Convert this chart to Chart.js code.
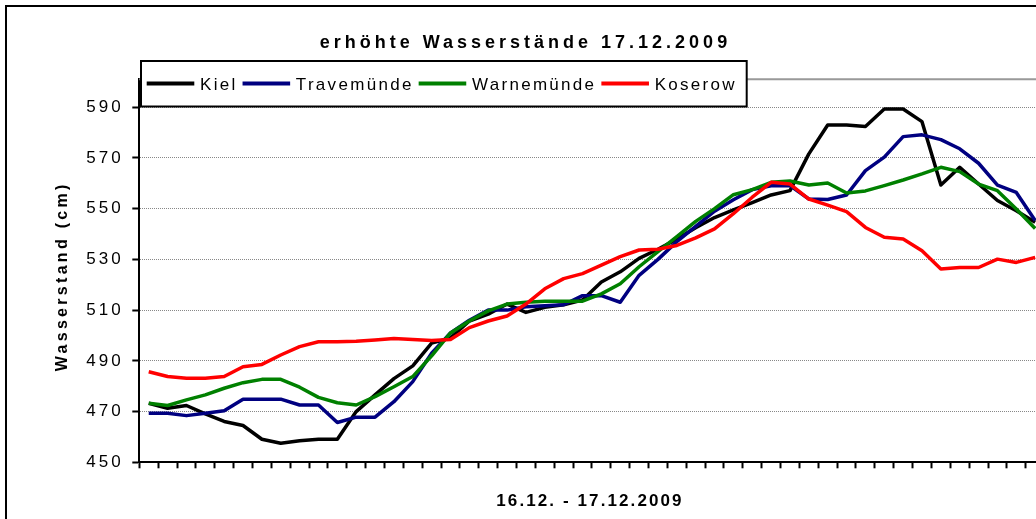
<!DOCTYPE html>
<html>
<head>
<meta charset="utf-8">
<title>erhöhte Wasserstände 17.12.2009</title>
<script src="https://cdn.jsdelivr.net/npm/chart.js@4"></script>
<style>
  html, body { margin: 0; padding: 0; background: #fff; overflow: hidden; }
  body { width: 1036px; height: 519px; position: relative; }
  canvas { position: absolute; left: 0; top: 0; }
  #frame { position: absolute; left: 5px; top: 5px; width: 1100px; height: 600px; border: 2px solid #000; pointer-events: none; }
</style>
</head>
<body>
<canvas class="js-chart" width="1070" height="545"></canvas>
<div id="frame"></div>
<script>
const ctx = document.querySelector(".js-chart").getContext("2d");
const FONT = '"Liberation Sans", Arial, sans-serif';

// half-hour slots, 16.12. - 17.12.2009
const slots = ["1", "2", "3", "4", "5", "6", "7", "8", "9", "10", "11", "12", "13", "14", "15", "16",
  "17", "18", "19", "20", "21", "22", "23", "24", "25", "26", "27", "28", "29", "30", "31", "32",
  "33", "34", "35", "36", "37", "38", "39", "40", "41", "42", "43", "44", "45", "46", "47", "48"];

const kiel = [473.3, 471.3, 472.4, 469.1, 466.1, 464.5, 459.1, 457.5, 458.5, 459.1,
  459.1, 470.0, 476.6, 483.0, 488.0, 497.0, 499.0, 505.7, 508.4, 512.4,
  509.1, 511.1, 512.1, 514.0, 521.1, 525.1, 530.4, 534.0, 538.0, 542.5,
  546.5, 549.5, 552.4, 555.4, 557.1, 571.6, 583.0, 583.0, 582.4, 589.3,
  589.3, 584.3, 559.3, 566.3, 559.7, 553.2, 549.2, 544.6];

const travemuende = [469.3, 469.3, 468.4, 469.3, 470.3, 474.9, 474.9, 474.9, 472.6, 472.6,
  465.7, 467.8, 467.8, 473.9, 481.8, 493.0, 501.0, 506.0, 510.0, 510.0,
  511.3, 511.7, 512.1, 515.7, 515.7, 513.1, 523.7, 530.0, 537.0, 543.0,
  549.0, 553.5, 557.5, 559.0, 559.1, 553.8, 553.6, 555.4, 565.0, 570.3,
  578.4, 579.1, 577.2, 573.6, 567.9, 559.3, 556.4, 545.3];

const warnemuende = [473.3, 472.4, 474.6, 476.6, 479.2, 481.4, 482.7, 482.7, 479.6, 475.6,
  473.5, 472.6, 475.9, 479.8, 483.8, 492.0, 501.0, 505.7, 509.7, 512.4,
  513.1, 513.5, 513.5, 513.5, 516.4, 520.4, 527.1, 533.1, 539.0, 545.0,
  550.0, 555.5, 557.5, 560.4, 560.9, 559.3, 560.1, 556.2, 557.0, 559.1,
  561.3, 563.7, 566.3, 564.6, 559.7, 557.1, 549.9, 542.2];

const koserow = [485.7, 483.8, 483.1, 483.1, 483.8, 487.7, 488.6, 492.3, 495.6, 497.5,
  497.5, 497.7, 498.2, 498.8, 498.4, 498.0, 498.4, 503.1, 505.7, 507.7,
  512.4, 518.4, 522.4, 524.4, 527.7, 531.1, 533.7, 534.0, 535.5, 538.5,
  542.0, 548.0, 554.5, 560.4, 559.7, 553.8, 551.4, 548.8, 542.6, 538.7,
  538.0, 533.4, 526.2, 526.8, 526.8, 530.1, 528.8, 530.8];

const yTicks = [450, 470, 490, 510, 530, 550, 570, 590];

Chart.defaults.font.family = FONT;
Chart.defaults.color = "#000";

// Excel spreads its letters out; canvas can do that with letterSpacing
function spaced(target, method, spacing, dx, dy) {
  const original = target[method];
  target[method] = function (...args) {
    const c = this.ctx;
    c.save();
    c.letterSpacing = spacing;
    c.translate(dx, dy);
    original.apply(this, args);
    c.restore();
  };
}

const spacingPlugin = {
  id: "spacing",
  beforeDraw(chart) {
    if (chart.$spaced) return;
    chart.$spaced = true;
    spaced(chart.titleBlock, "draw", "4px", 0, 0);
    spaced(chart.scales.y, "drawLabels", "3px", 0, 0);
    spaced(chart.scales.y, "drawTitle", "3.3px", 0, 5.5);
    spaced(chart.scales.x, "drawTitle", "2.1px", -2, 0);
  },
};

const plotBorderPlugin = {
  id: "plotBorder",
  beforeDatasetsDraw(chart) {
    const { ctx: c, chartArea } = chart;
    c.save();
    c.strokeStyle = "#999";
    c.lineWidth = 2;
    c.beginPath();
    c.moveTo(chartArea.left, chartArea.top);
    c.lineTo(chartArea.right, chartArea.top);
    c.stroke();
    c.restore();
  },
};

const boxLegendPlugin = {
  id: "boxLegend",
  afterDraw(chart) {
    const c = chart.ctx;
    c.save();
    c.fillStyle = "#fff";
    c.fillRect(141, 61, 605.7, 45.5);
    c.strokeStyle = "#000";
    c.lineWidth = 2;
    c.strokeRect(141, 61, 605.7, 45.5);
    c.font = "17px " + FONT;
    c.letterSpacing = "2.3px";
    c.textBaseline = "middle";
    let x = 146.7;
    chart.data.datasets.forEach((ds) => {
      c.strokeStyle = ds.borderColor;
      c.lineWidth = 4;
      c.beginPath();
      c.moveTo(x, 83.5);
      c.lineTo(x + 47.6, 83.5);
      c.stroke();
      c.fillStyle = "#000";
      c.fillText(ds.label, x + 53.3, 85);
      x += 53.3 + c.measureText(ds.label).width + 5;
    });
    c.restore();
  },
};

function series(label, data, color, order) {
  return {
    label,
    data,
    borderColor: color,
    backgroundColor: color,
    borderWidth: 3.5,
    borderJoinStyle: "round",
    pointRadius: 0,
    tension: 0,
    fill: false,
    order,
  };
}

new Chart(ctx, {
  type: "line",
  data: {
    labels: slots,
    datasets: [
      series("Kiel", kiel, "#000000", 3),
      series("Travemünde", travemuende, "#000080", 2),
      series("Warnemünde", warnemuende, "#008000", 1),
      series("Koserow", koserow, "#ff0000", 0),
    ],
  },
  options: {
    responsive: false,
    animation: false,
    devicePixelRatio: 1,
    layout: { padding: { left: 6.2, right: 25.4, top: 0, bottom: 23.1 } },
    plugins: {
      legend: { display: false },
      tooltip: { enabled: false },
      title: {
        display: true,
        text: "erhöhte Wasserstände 17.12.2009",
        color: "#000",
        font: { size: 18, weight: "bold" },
        padding: { top: 32.5, bottom: 25.2 },
      },
    },
    scales: {
      x: {
        offset: true,
        grid: {
          offset: true,
          drawOnChartArea: false,
          drawTicks: true,
          tickLength: 6,
          tickColor: "#000",
          tickWidth: 2,
        },
        border: { color: "#000", width: 2 },
        ticks: { display: false, autoSkip: false },
        title: {
          display: true,
          text: "16.12. - 17.12.2009",
          font: { size: 17, weight: "bold" },
          padding: { top: 0, bottom: 10 },
        },
        afterFit(scale) {
          scale.height = 59.6;
        },
      },
      y: {
        min: 450,
        max: 601,
        grid: {
          color: "#888",
          lineWidth: 1,
          tickLength: 7,
          tickColor: "#000",
          tickWidth: 2,
        },
        border: { color: "#000", width: 2, dash: [1, 1] },
        ticks: { padding: 8.6, font: { size: 17 } },
        title: {
          display: true,
          text: "Wasserstand (cm)",
          font: { size: 16, weight: "bold" },
          padding: { top: 47.2, bottom: 0 },
        },
        afterBuildTicks(scale) {
          scale.ticks = yTicks.map((value) => ({ value }));
        },
        afterFit(scale) {
          scale.width = 133.1;
        },
      },
    },
  },
  plugins: [spacingPlugin, plotBorderPlugin, boxLegendPlugin],
});
</script>
</body>
</html>
